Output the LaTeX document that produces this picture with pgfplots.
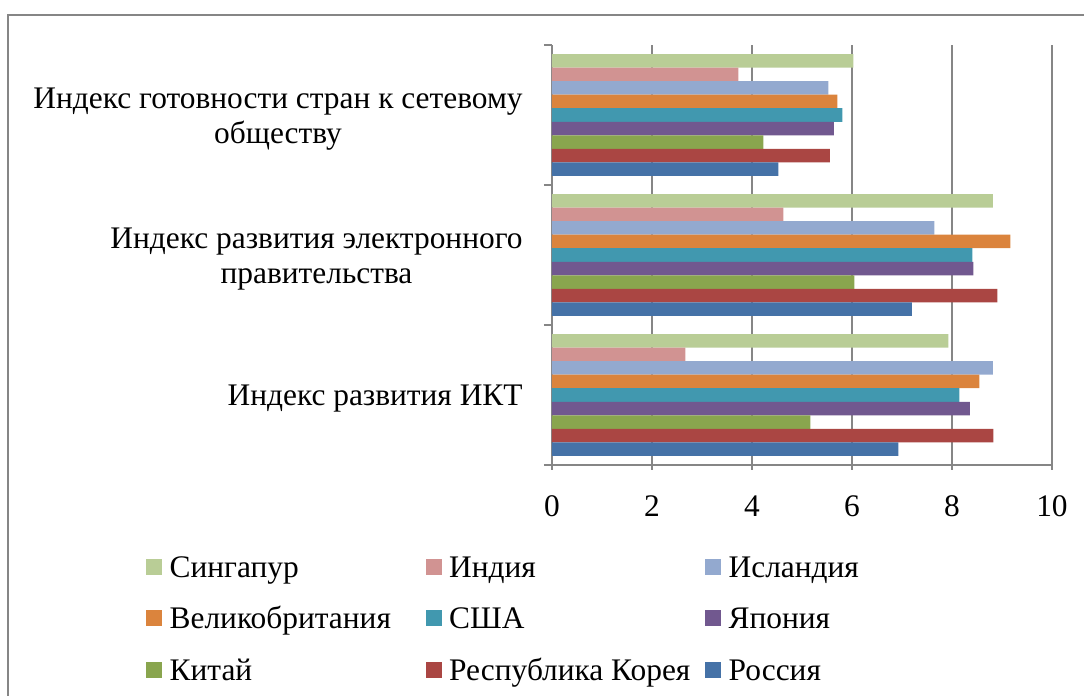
\documentclass[border=0pt]{standalone}
\usepackage{fontspec}
\setmainfont{Liberation Serif}
\usepackage{pgfplots}
\pgfplotsset{compat=1.18}
\definecolor{cRus}{HTML}{4572A7}
\definecolor{cKor}{HTML}{AA4643}
\definecolor{cChi}{HTML}{89A54E}
\definecolor{cJap}{HTML}{71588F}
\definecolor{cUSA}{HTML}{4198AF}
\definecolor{cGB}{HTML}{DB843D}
\definecolor{cIsl}{HTML}{93A9CF}
\definecolor{cInd}{HTML}{D19392}
\definecolor{cSin}{HTML}{B9CD96}
\definecolor{axgray}{HTML}{868686}
\newcommand{\fs}{\fontsize{15.7}{17.5}\selectfont}
\newcommand{\LE}[1]{\makebox[128.1pt][l]{\strut #1}}
\begin{document}
\begin{tikzpicture}
\useasboundingbox (0,0) rectangle (542pt,348pt);
\draw[color=axgray, line width=1pt] (4pt,-5pt) -- (4pt,340.5pt) -- (550pt,340.5pt);
\begin{axis}[
  at={(276pt,115.5pt)}, anchor=south west,
  scale only axis, width=250pt, height=210pt,
  xbar, bar width=0.0968,
  xmin=0, xmax=10, ymin=-0.5, ymax=2.5,
  xtick={0,2,4,6,8,10},
  ytick={0,1,2},
  yticklabels={Индекс развития ИКТ, {Индекс развития электронного\\правительства}, {Индекс готовности стран к сетевому\\обществу}},
  minor ytick={-0.5,0.5,1.5,2.5},
  axis lines*=left,
  axis line style={color=axgray, line width=0.75pt},
  tick style={color=axgray, line width=0.75pt},
  every major y tick/.append style={draw=none},
  tick align=outside,
  major tick length=2.5pt, minor tick length=4pt,
  xmajorgrids, grid style={color=axgray, line width=0.75pt},
  /pgf/number format/assume math mode=true,
  xticklabel style={font=\fs, inner sep=0pt, yshift=-12.5pt},
  yticklabel style={font=\fs, align=center, inner sep=0pt, xshift=-12pt, yshift=-2pt},
  legend columns=3,
  legend style={draw=none, fill=none, inner sep=0pt, row sep=12pt,
    at={(-0.812,-0.2083)}, anchor=north west, font=\fs,
    cells={anchor=base west},
    nodes={inner sep=0pt},
    /tikz/every odd column/.append style={column sep=3.65pt}},
  legend image code/.code={\fill[#1] (0pt,1.2pt) rectangle (8pt,9.2pt);},
]
\addplot[fill=cSin, draw=none, bar shift=0.3872] coordinates {(7.93,0) (8.82,1) (6.03,2)};
\addlegendentry{\LE{Сингапур}}
\addplot[fill=cInd, draw=none, bar shift=0.2904] coordinates {(2.67,0) (4.63,1) (3.73,2)};
\addlegendentry{\LE{Индия}}
\addplot[fill=cIsl, draw=none, bar shift=0.1936] coordinates {(8.82,0) (7.65,1) (5.53,2)};
\addlegendentry{\LE{Исландия}}
\addplot[fill=cGB, draw=none, bar shift=0.0968] coordinates {(8.55,0) (9.17,1) (5.71,2)};
\addlegendentry{\LE{Великобритания}}
\addplot[fill=cUSA, draw=none, bar shift=0] coordinates {(8.15,0) (8.41,1) (5.81,2)};
\addlegendentry{\LE{США}}
\addplot[fill=cJap, draw=none, bar shift=-0.0968] coordinates {(8.36,0) (8.43,1) (5.64,2)};
\addlegendentry{\LE{Япония}}
\addplot[fill=cChi, draw=none, bar shift=-0.1936] coordinates {(5.17,0) (6.05,1) (4.23,2)};
\addlegendentry{\LE{Китай}}
\addplot[fill=cKor, draw=none, bar shift=-0.2904] coordinates {(8.83,0) (8.91,1) (5.56,2)};
\addlegendentry{\LE{Республика Корея}}
\addplot[fill=cRus, draw=none, bar shift=-0.3872] coordinates {(6.93,0) (7.20,1) (4.53,2)};
\addlegendentry{\LE{Россия}}
\end{axis}
\end{tikzpicture}
\end{document}
